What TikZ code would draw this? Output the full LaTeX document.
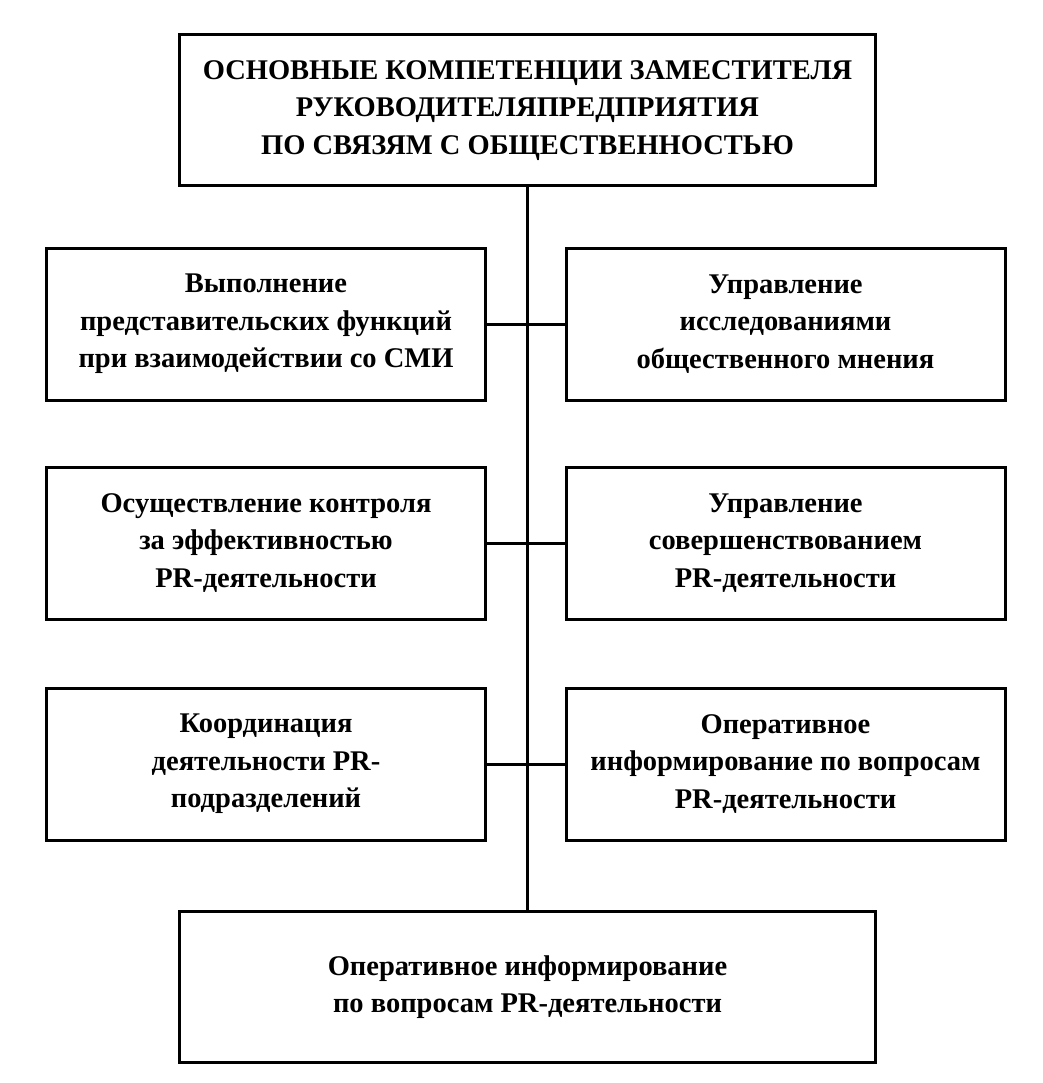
\documentclass[tikz,border=0pt]{standalone}
\usepackage{fontspec}
\setmainfont{Liberation Serif}
\tikzset{
  box/.style={draw=black, line width=3pt, align=center, font=\bfseries\fontsize{28.5}{37.5}\selectfont, inner sep=0pt},
  wide box/.style={box, minimum width=696, minimum height=151},
  side box/.style={box, minimum width=439, minimum height=152},
  spine/.style={draw=black, line width=2.2pt},
  link/.style={draw=black, line width=3pt}
}

\begin{document}
\begin{tikzpicture}[x=1pt, y=-1pt, line cap=butt, line join=miter]
  \useasboundingbox (0,0) rectangle (1042,1083);
  \node [wide box] (head) at (527.5,110.5)
    {ОСНОВНЫЕ КОМПЕТЕНЦИИ ЗАМЕСТИТЕЛЯ\\РУКОВОДИТЕЛЯПРЕДПРИЯТИЯ\\ПО СВЯЗЯМ С ОБЩЕСТВЕННОСТЬЮ};
  \node [wide box] (foot) at (527.5,987)
    {Оперативное информирование\\по вопросам PR-деятельности};
  % left column
  \node [side box] (smi)   at (266,324) {Выполнение\\представительских функций\\при взаимодействии со СМИ};
  \node [side box] (ctrl)  at (266,543) {Осуществление контроля\\за эффективностью\\PR-деятельности};
  \node [side box] (coord) at (266,764) {Координация\\деятельности PR-\\подразделений};
  % right column
  \node [side box] (opin)  at (785.5,324) {Управление\\исследованиями\\общественного мнения};
  \node [side box] (impr)  at (785.5,543) {Управление\\совершенствованием\\PR-деятельности};
  \node [side box] (info)  at (785.5,764) {Оперативное\\информирование по вопросам\\PR-деятельности};
  \path [spine] (head.south) -- (foot.north);
  \foreach \a/\b in {smi/opin, ctrl/impr, coord/info}
    \path [link] (\a.east) -- (\b.west);
\end{tikzpicture}
\end{document}
